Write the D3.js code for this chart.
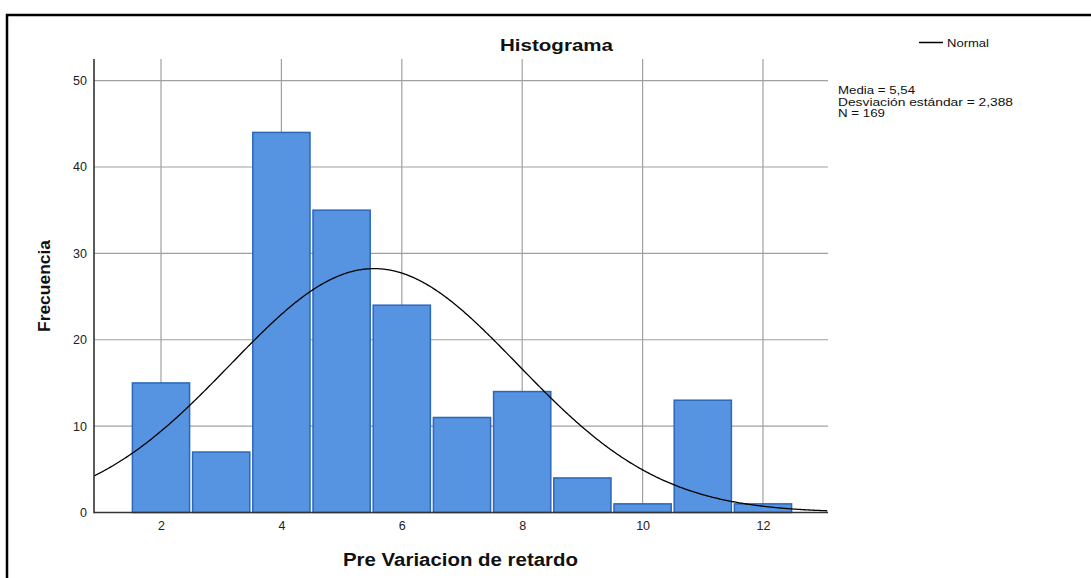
<!DOCTYPE html>
<html>
<head>
<meta charset="utf-8">
<script src="https://cdn.jsdelivr.net/npm/d3@7"></script>
<style>
  html, body { margin: 0; padding: 0; background: #fff; }
  svg { display: block; }
  text { font-family: "Liberation Sans", Arial, sans-serif; }
</style>
</head>
<body>
<svg id="chart" width="1091" height="578"></svg>
<script>
// ---- data ----
const binCenters = [2, 3, 4, 5, 6, 7, 8, 9, 10, 11, 12];
const frequencies = [15, 7, 44, 35, 24, 11, 14, 4, 1, 13, 1];
const xTicks = [2, 4, 6, 8, 10, 12];
const yTicks = [0, 10, 20, 30, 40, 50];
const mean = 5.54;
const stdDev = 2.388;
const nTotal = 169;
const binWidth = 1;
const statsLines = ["Media = 5,54", "Desviación estándar = 2,388", "N = 169"];

// ---- layout ----
const svg = d3.select("#chart");
const pLeft = 94, pRight = 828, pTop = 59, pBottom = 512.5;

const x = d3.scaleLinear().domain([0.887, 13.08]).range([pLeft, pRight]);
const y = d3.scaleLinear().domain([0, 52.5]).range([pBottom, pTop]);

function addText(parent, tx, ty, str, opts) {
  const o = Object.assign({size: 11, weight: "normal", anchor: "start", width: null, rotate: 0}, opts || {});
  const t = parent.append("text")
    .attr("transform", `translate(${tx},${ty})` + (o.rotate ? ` rotate(${o.rotate})` : ""))
    .attr("text-anchor", o.anchor)
    .attr("font-size", o.size)
    .attr("font-weight", o.weight)
    .attr("fill", "#111")
    .text(str);
  if (o.width) t.attr("textLength", o.width).attr("lengthAdjust", "spacingAndGlyphs");
  return t;
}

// frame
svg.append("path")
  .attr("d", `M7,1100 L7,15 L1100,15`)
  .attr("fill", "none").attr("stroke", "#000").attr("stroke-width", 2.5);

// gridlines
const grid = svg.append("g");
grid.selectAll("line.h").data(yTicks.filter(d => d > 0)).enter().append("line")
  .attr("x1", pLeft).attr("x2", pRight)
  .attr("y1", d => y(d)).attr("y2", d => y(d))
  .attr("stroke", "#a0a0a0").attr("stroke-width", 1.2);
grid.selectAll("line.v").data(xTicks).enter().append("line")
  .attr("x1", d => x(d)).attr("x2", d => x(d))
  .attr("y1", pTop).attr("y2", pBottom)
  .attr("stroke", "#a0a0a0").attr("stroke-width", 1.2);

// bars
const gap = 3;
svg.append("g").selectAll("rect").data(binCenters).enter().append("rect")
  .attr("x", (d) => x(d - binWidth / 2) + gap / 2)
  .attr("width", x(binWidth) - x(0) - gap)
  .attr("y", (d, i) => y(frequencies[i]))
  .attr("height", (d, i) => y(0) - y(frequencies[i]))
  .attr("fill", "#5694e2")
  .attr("stroke", "#2c67ba")
  .attr("stroke-width", 1.5);

// normal curve
const pdf = v => nTotal * binWidth / (stdDev * Math.sqrt(2 * Math.PI)) *
  Math.exp(-0.5 * Math.pow((v - mean) / stdDev, 2));
const xs = d3.range(x.domain()[0], x.domain()[1] + 0.001, 0.02);
svg.append("path")
  .datum(xs)
  .attr("d", d3.line().x(d => x(d)).y(d => y(pdf(d))))
  .attr("fill", "none").attr("stroke", "#000").attr("stroke-width", 1.3);

// axes
const yAxis = d3.axisLeft(y).tickValues(yTicks).tickSize(0).tickPadding(7);
const gy = svg.append("g").attr("transform", `translate(${pLeft},0)`).call(yAxis);
gy.select(".domain").remove();
gy.selectAll("text").attr("font-size", 12.5).attr("fill", "#222")
  .attr("font-family", "'Liberation Sans', Arial, sans-serif");

const xAxis = d3.axisBottom(x).tickValues(xTicks).tickSize(0).tickPadding(9);
const gx = svg.append("g").attr("transform", `translate(0,${pBottom})`).call(xAxis);
gx.select(".domain").remove();
gx.selectAll("text").attr("font-size", 12.5).attr("fill", "#222")
  .attr("font-family", "'Liberation Sans', Arial, sans-serif");

svg.append("line").attr("x1", pLeft).attr("x2", pLeft).attr("y1", pTop).attr("y2", pBottom + 0.8)
  .attr("stroke", "#333").attr("stroke-width", 1.6);
svg.append("line").attr("x1", pLeft).attr("x2", pRight).attr("y1", pBottom).attr("y2", pBottom)
  .attr("stroke", "#333").attr("stroke-width", 1.6);

// titles
addText(svg, 556.5, 51, "Histograma", {size: 17, weight: "bold", anchor: "middle", width: 113});
addText(svg, 460.5, 566, "Pre Variacion de retardo", {size: 17.5, weight: "bold", anchor: "middle", width: 235});
addText(svg, 49.5, 286, "Frecuencia", {size: 16, weight: "bold", anchor: "middle", width: 92, rotate: -90});

// legend
svg.append("line").attr("x1", 919).attr("x2", 943).attr("y1", 42.5).attr("y2", 42.5)
  .attr("stroke", "#000").attr("stroke-width", 1.5);
addText(svg, 947, 46.5, "Normal", {size: 11.5, width: 42});

// stats
const statWidths = [77, 175, 47];
statsLines.forEach((s, i) => addText(svg, 838, 94 + i * 11.7, s, {size: 11.5, width: statWidths[i]}));
</script>
</body>
</html>
